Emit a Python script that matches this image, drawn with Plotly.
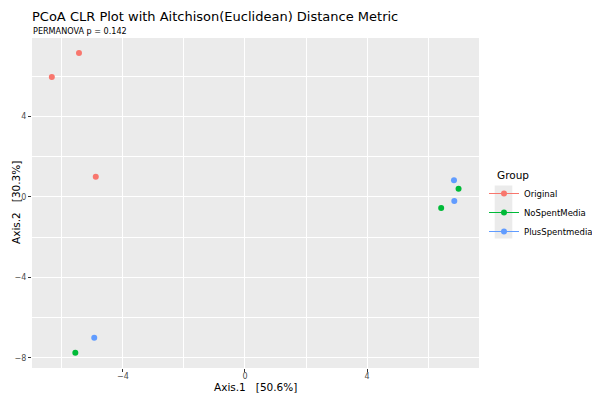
import plotly.graph_objects as go

groups = ["Original", "NoSpentMedia", "PlusSpentmedia"]
colors = ["#F8766D", "#00BA38", "#619CFF"]
axis1 = {
    "Original": [-6.33, -5.44, -4.89],
    "NoSpentMedia": [-5.56, 7.00, 6.43],
    "PlusSpentmedia": [-4.94, 6.85, 6.86],
}
axis2 = {
    "Original": [5.97, 7.16, 1.00],
    "NoSpentMedia": [-7.75, 0.41, -0.55],
    "PlusSpentmedia": [-7.00, 0.83, -0.20],
}
x_ticks = [-4, 0, 4]
y_ticks = [-8, -4, 0, 4]

# the page is drawn with an 8px body offset; margins compensate for it
L, R, T, B = 24, 129, 30, 40
PW, PH = 600 - L - R, 400 - T - B


def px(xs):
    return (xs - 8 - L) / PW


def py(ys):
    return 1 - (ys - 8 - T) / PH


fig = go.Figure()
for g, c in zip(groups, colors):
    fig.add_trace(go.Scatter(x=axis1[g], y=axis2[g], mode="markers", name=g,
                             marker=dict(color=c, size=6), showlegend=False))
for g, c in zip(groups, colors):
    fig.add_trace(go.Scatter(x=[None], y=[None], mode="lines+markers", name=g,
                             marker=dict(color=c, size=6), line=dict(color=c, width=1)))

axcommon = dict(showgrid=True, gridcolor="white", gridwidth=1.1, zeroline=False,
                ticks="outside", ticklen=3, tickcolor="#333333", tickwidth=1,
                tickfont=dict(size=8, color="#4D4D4D"),
                minor=dict(showgrid=True, gridcolor="white", gridwidth=0.5),
                showline=False, automargin=False)

fig.update_layout(
    width=600, height=400,
    margin=dict(l=L, r=R, t=T, b=B, autoexpand=False),
    paper_bgcolor="white", plot_bgcolor="#EBEBEB",
    font=dict(family="DejaVu Sans", color="black"),
    xaxis=dict(range=[-6.98, 7.67], tickvals=x_ticks, minor_dtick=2, ticklabelstandoff=-3,
               **axcommon),
    yaxis=dict(range=[-8.51, 7.91], tickvals=y_ticks, minor_dtick=2, ticklabelstandoff=0,
               **axcommon),
    legend=dict(x=px(484), y=py(179), xanchor="left", yanchor="top",
                bgcolor="rgba(0,0,0,0)", font=dict(size=8.5),
                itemwidth=30, tracegroupgap=0),
    showlegend=True,
)
# grey legend key background
fig.add_shape(type="rect", xref="paper", yref="paper",
              x0=px(494.7), x1=px(512.3), y0=py(238.5), y1=py(185.5),
              fillcolor="#EBEBEB", line=dict(width=0), layer="below")
fig.add_annotation(text="Group", xref="paper", yref="paper", x=px(494.5), y=py(175),
                   xanchor="left", yanchor="middle", showarrow=False, font=dict(size=10.5))
fig.add_annotation(text="Axis.1   [50.6%]", xref="paper", yref="paper", x=0.5, y=py(387),
                   xanchor="center", yanchor="middle", showarrow=False, font=dict(size=10.5))
fig.add_annotation(text="Axis.2   [30.3%]", xref="paper", yref="paper", x=px(16), y=0.5,
                   xanchor="center", yanchor="middle", textangle=-90, showarrow=False,
                   font=dict(size=10.5))
fig.add_annotation(text="PCoA CLR Plot with Aitchison(Euclidean) Distance Metric",
                   xref="paper", yref="paper", x=px(31), y=py(8),
                   xanchor="left", yanchor="top", borderpad=0,
                   showarrow=False, font=dict(size=13))
fig.add_annotation(text="PERMANOVA p = 0.142",
                   xref="paper", yref="paper", x=px(31), y=py(30.5), xanchor="left", yanchor="middle",
                   showarrow=False,
                   font=dict(size=9, family="DejaVu Sans Condensed, DejaVu Sans"))
fig.write_html("out.html")
